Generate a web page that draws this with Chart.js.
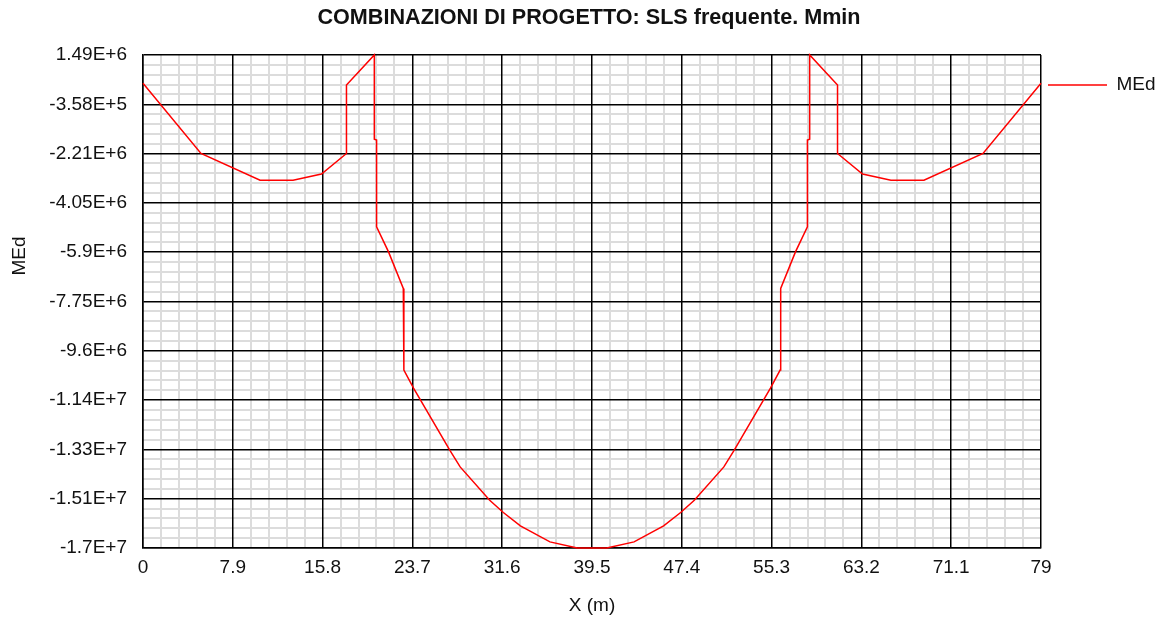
<!DOCTYPE html>
<html>
<head>
<meta charset="utf-8">
<script src="https://cdn.jsdelivr.net/npm/chart.js@4.4.1/dist/chart.umd.min.js"></script>
<style>
  html, body { margin: 0; padding: 0; background: #ffffff; }
  #wrap { width: 1165px; height: 619px; }
</style>
</head>
<body>
<div id="wrap"><canvas id="c" width="1165" height="619"></canvas></div>
<script>
// ---- data ----
const chartTitle = 'COMBINAZIONI DI PROGETTO: SLS frequente. Mmin';
const seriesName = 'MEd';
const xTitle = 'X (m)';
const yTitle = 'MEd';

const xValues = [
  0, 5.1, 10.3, 13.2, 15.7, 17.9, 17.9, 20.35, 20.35, 20.55, 20.55, 21.6, 22.9, 22.95, 23.8,
  27.0, 27.9, 30.5, 31.7, 33.2, 35.8, 38.2,
  40.8, 43.2, 45.8, 47.3, 48.5, 51.1, 52.0, 55.2, 56.05, 56.1, 57.4, 58.45, 58.45, 58.65, 58.65,
  61.1, 61.1, 63.3, 65.8, 68.7, 73.9, 79
];
const mEdValues = [
  430000, -2200000, -3200000, -3200000, -2970000, -2200000, 365000, 1490000, -1670000, -1700000,
  -4950000, -5890000, -7260000, -10320000, -11000000, -13330000, -13950000, -15200000, -15660000,
  -16160000, -16760000, -16990000,
  -16990000, -16760000, -16160000, -15660000, -15200000, -13950000, -13330000, -11000000, -10320000,
  -7260000, -5890000, -4950000, -1700000, -1670000, 1490000, 365000, -2200000, -2970000, -3200000,
  -3200000, -2200000, 430000
];

const xTickValues = [0, 7.9, 15.8, 23.7, 31.6, 39.5, 47.4, 55.3, 63.2, 71.1, 79];
const xTickLabels = ['0', '7.9', '15.8', '23.7', '31.6', '39.5', '47.4', '55.3', '63.2', '71.1', '79'];
const yTickValues = [1490000, -358000, -2206000, -4054000, -5902000, -7750000, -9598000,
  -11446000, -13294000, -15142000, -16990000];
const yTickLabels = ['1.49E+6', '-3.58E+5', '-2.21E+6', '-4.05E+6', '-5.9E+6', '-7.75E+6',
  '-9.6E+6', '-1.14E+7', '-1.33E+7', '-1.51E+7', '-1.7E+7'];

// ---- helpers ----
const FONT = "'Liberation Sans', Arial, sans-serif";
const points = xValues.map((x, i) => ({ x: x, y: mEdValues[i] }));
const X_MIN = Math.min(...xTickValues), X_MAX = Math.max(...xTickValues);
const Y_MIN = Math.min(...yTickValues), Y_MAX = Math.max(...yTickValues);

function minorTicks(major) {
  const sorted = major.slice().sort((a, b) => a - b);
  const out = [];
  for (let i = 0; i < sorted.length - 1; i++) {
    const a = sorted[i], b = sorted[i + 1];
    for (let k = 1; k < 5; k++) out.push({ value: a + (b - a) * k / 5 });
  }
  return out;
}

const yTitlePlugin = {
  id: 'yTitlePlugin',
  afterDraw(chart) {
    const ctx = chart.ctx;
    ctx.save();
    ctx.translate(20, 256);
    ctx.rotate(-Math.PI / 2);
    ctx.font = '19px ' + FONT;
    ctx.fillStyle = '#111';
    ctx.textAlign = 'center';
    ctx.textBaseline = 'middle';
    ctx.fillText(yTitle, 0, 0);
    ctx.restore();
  }
};

new Chart(document.getElementById('c'), {
  type: 'scatter',
  data: {
    datasets: [{
      label: seriesName,
      data: points,
      showLine: true,
      borderColor: '#ff0000',
      backgroundColor: '#ff0000',
      borderWidth: 1.5,
      pointRadius: 0,
      pointHoverRadius: 0,
      tension: 0,
      clip: false
    }]
  },
  plugins: [yTitlePlugin],
  options: {
    responsive: false,
    animation: false,
    devicePixelRatio: 1,
    layout: { padding: { left: 13, right: 0, top: 0, bottom: 0 } },
    plugins: {
      title: {
        display: true,
        text: chartTitle,
        color: '#111',
        font: { family: FONT, size: 21.6, weight: 'bold' },
        padding: { top: 5, bottom: 24.1 }
      },
      legend: {
        display: true,
        position: 'right',
        align: 'start',
        fullSize: false,
        maxWidth: 124,
        title: { display: true, text: '', font: { size: 1 }, padding: { top: 12.3, bottom: 0 } },
        labels: {
          usePointStyle: true,
          pointStyle: 'line',
          pointStyleWidth: 59,
          padding: 7,
          color: '#111',
          font: { family: FONT, size: 19 }
        }
      },
      tooltip: { enabled: false }
    },
    scales: {
      xm: {
        type: 'linear',
        position: 'bottom',
        min: X_MIN, max: X_MAX,
        afterBuildTicks: (s) => { s.ticks = minorTicks(xTickValues); },
        afterFit: (s) => { s.height = 0; },
        ticks: { display: false },
        border: { display: false },
        grid: { color: '#dcdcdc', lineWidth: 2, drawTicks: false, z: -1 }
      },
      ym: {
        type: 'linear',
        position: 'left',
        min: Y_MIN, max: Y_MAX,
        afterBuildTicks: (s) => { s.ticks = minorTicks(yTickValues); },
        afterFit: (s) => { s.width = 0; },
        ticks: { display: false },
        border: { display: false },
        grid: { color: '#dcdcdc', lineWidth: 2, drawTicks: false, z: -1 }
      },
      x: {
        type: 'linear',
        position: 'bottom',
        min: X_MIN, max: X_MAX,
        afterBuildTicks: (s) => { s.ticks = xTickValues.map(v => ({ value: v })); },
        afterFit: (s) => { s.height = 71; },
        ticks: {
          autoSkip: false, maxRotation: 0, padding: 8,
          color: '#111',
          font: { family: FONT, size: 19 },
          callback: (v, i) => xTickLabels[i]
        },
        border: { display: true, color: '#000', width: 1.5 },
        grid: { color: '#000', lineWidth: 1.5, drawTicks: false },
        title: {
          display: true, text: xTitle, color: '#111',
          font: { family: FONT, size: 19 },
          padding: { top: 0, bottom: 2 }
        }
      },
      y: {
        type: 'linear',
        position: 'left',
        min: Y_MIN, max: Y_MAX,
        afterBuildTicks: (s) => { s.ticks = yTickValues.map(v => ({ value: v })); },
        afterFit: (s) => { s.width = 130; },
        ticks: {
          autoSkip: false, padding: 16,
          color: '#111',
          font: { family: FONT, size: 19 },
          callback: (v, i) => yTickLabels[i]
        },
        border: { display: true, color: '#000', width: 1.5 },
        grid: { color: '#000', lineWidth: 1.5, drawTicks: false }
      }
    }
  }
});
</script>
</body>
</html>
